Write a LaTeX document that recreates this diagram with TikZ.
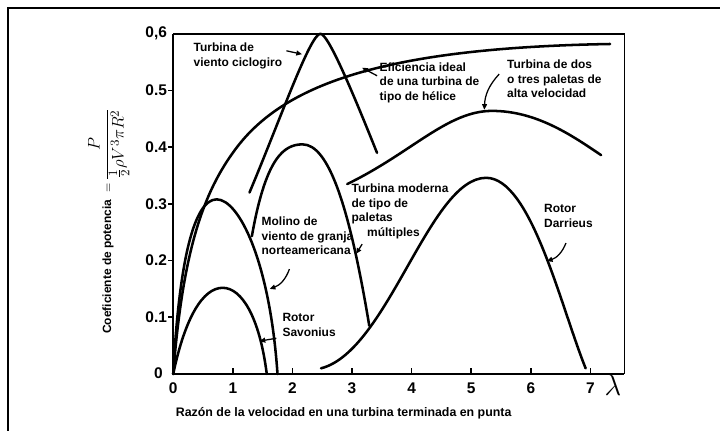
\documentclass[tikz,border=0pt]{standalone}
\usepackage{fontspec}
\setmainfont{Liberation Sans}
\usetikzlibrary{positioning,arrows.meta}

\begin{document}
\begin{tikzpicture}[
	curva/.style={line width=1.8pt, line cap=round, line join=round},
	eje/.style={line width=1.2pt},
	etiqueta/.style={font=\bfseries\fontsize{8.5}{10.5}\selectfont, align=left, inner sep=0pt, anchor=north west},
	numero/.style={font=\bfseries\fontsize{11}{13}\selectfont, inner sep=0pt},
	flecha/.style={line width=0.9pt, -{Triangle[length=4pt,width=3.5pt]}}
]
	\useasboundingbox (0,0) rectangle (18,10.775);
	%% marco exterior
	\coordinate (m1) at (0.2,0);
	\coordinate (m2) at (0.2,10.575);
	\coordinate (m3) at (18,10.575);
	\draw[line width=1pt] (m1) -- (m2) -- (m3);

	\begin{scope}[shift={(4.33,1.425)}, x=1.49cm, y=14.175cm]
		%% ejes y caja
		\coordinate (o) at (0,0);
		\coordinate (ex) at (7.57,0);
		\coordinate (ey) at (0,0.6);
		\coordinate (ee) at (7.57,0.6);
		\draw[eje] (ey) -- (o);
		\draw[line width=1.8pt] (o) -- (ex);
		\draw[eje] (ey) -- (ee) -- (ex);
		% marcas
		\foreach \y in {0.1,0.2,0.3,0.4,0.5}
			\draw[eje] (0,\y) -- ++(-0.09,0);
		\foreach \x in {1,...,7}
			\draw[eje] (\x,0) -- ++(0,0.011);
		% numeros
		\foreach \y/\t in {0.1/0.1,0.2/0.2,0.3/0.3,0.4/0.4,0.5/0.5,0.6/{0,6}}
			\node[numero, anchor=east] (ny\y) at (-0.1,\y) {\t};
		\node[numero, anchor=east] (ny0) at (-0.17,0.002) {0};
		\foreach \x in {0,...,7}
			\node[numero] (nx\x) at (\x,-0.025) {\x};
		\node[font=\huge] (lam) at (7.38,-0.02) {$\lambda$};

		%% titulos de los ejes
		\node[font=\bfseries\fontsize{8.8}{10}\selectfont] (tx) at (2.86,-0.07)
			{Razón de la velocidad en una turbina terminada en punta};
		\node[font=\bfseries\fontsize{8.5}{10}\selectfont, rotate=90] (ty) at (-1.08,0.27)
			{Coeficiente de potencia ${}={}$\fontsize{12.5}{14}\selectfont
			$\displaystyle\frac{P}{\frac{1}{2}\rho V^{3}\pi R^{2}}$};

		%% curvas
		% eficiencia ideal
		\draw[curva] (0,0) .. controls (0.15,0.2) and (0.45,0.31) .. (1,0.39)
			.. controls (1.8,0.51) and (3.5,0.575) .. (7.33,0.582);
		% ciclogiro
		\draw[curva] (1.28,0.32) .. controls (1.8,0.45) and (2.3,0.6) .. (2.47,0.6)
			.. controls (2.6,0.6) and (3.0,0.5) .. (3.42,0.39);
		% dos o tres paletas
		\draw[curva] (2.92,0.335) .. controls (4,0.39) and (4.6,0.464) .. (5.35,0.464)
			.. controls (6.1,0.464) and (6.7,0.42) .. (7.18,0.386);
		% paletas multiples
		\draw[curva] (1.32,0.243) .. controls (1.55,0.38) and (1.85,0.405) .. (2.17,0.405)
			.. controls (2.6,0.405) and (2.95,0.3) .. (3.29,0.085);
		% Darrieus
		\draw[curva] (2.48,0.01) .. controls (3.6,0.04) and (4.3,0.346) .. (5.25,0.346)
			.. controls (6.0,0.346) and (6.5,0.12) .. (6.92,0.01);
		% molino
		\draw[curva] (0,0) .. controls (0.1,0.2) and (0.35,0.308) .. (0.73,0.308)
			.. controls (1.1,0.308) and (1.62,0.2) .. (1.75,0);
		% Savonius
		\draw[curva] (0,0) .. controls (0.2,0.1) and (0.5,0.152) .. (0.83,0.152)
			.. controls (1.15,0.152) and (1.45,0.1) .. (1.57,0);

		%% rotulos
		\node[etiqueta] (cic) at (0.34,0.584) {Turbina de\\viento ciclogiro};
		\node[etiqueta] (efi) at (3.46,0.55) {Eficiencia ideal\\de una turbina de\\tipo de hélice};
		\node[etiqueta] (dos) at (5.6,0.555) {Turbina de dos\\o tres paletas de\\alta velocidad};
		\node[etiqueta] (mod) at (2.99,0.336) {Turbina moderna\\de tipo de\\paletas\\\hspace*{1.3em}múltiples};
		\node[etiqueta] (mol) at (1.48,0.278) {Molino de\\viento de granja\\norteamericana};
		\node[etiqueta] (sav) at (1.83,0.107) {Rotor\\Savonius};
		\node[etiqueta] (dar) at (6.22,0.3) {Rotor\\Darrieus};

		%% flechas
		\coordinate (cic-a) at (1.9,0.570);  \coordinate (cic-b) at (2.16,0.564);
		\coordinate (efi-a) at (3.42,0.526); \coordinate (efi-b) at (3.17,0.54);
		\coordinate (dos-a) at (5.47,0.529); \coordinate (dos-b) at (5.22,0.466);
		\coordinate (mod-a) at (3.17,0.229); \coordinate (mod-b) at (3.07,0.212);
		\coordinate (mol-a) at (1.95,0.185); \coordinate (mol-b) at (1.62,0.15);
		\coordinate (sav-a) at (1.73,0.063); \coordinate (sav-b) at (1.45,0.058);
		\coordinate (dar-a) at (6.59,0.231); \coordinate (dar-b) at (6.27,0.199);
		\draw[flecha] (cic-a) -- (cic-b);
		\draw[flecha] (efi-a) -- (efi-b);
		\draw[flecha] (dos-a) to[bend right=20] (dos-b);
		\draw[flecha] (mod-a) -- (mod-b);
		\draw[flecha] (mol-a) to[bend left=25] (mol-b);
		\draw[flecha] (sav-a) -- (sav-b);
		\draw[flecha] (dar-a) to[bend left=25] (dar-b);
	\end{scope}
\end{tikzpicture}
\end{document}
